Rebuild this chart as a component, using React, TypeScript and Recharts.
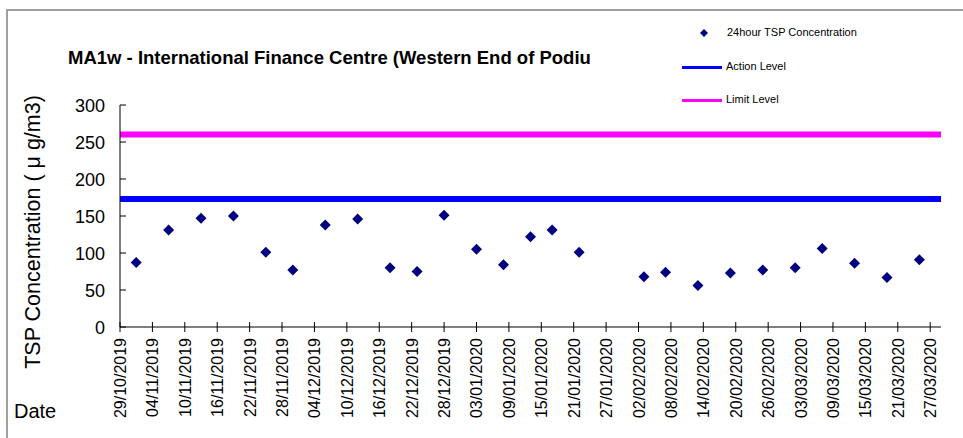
import React from "react";
import { ComposedChart, Scatter, XAxis, YAxis, ReferenceLine } from "recharts";

const sampleDates = [
  "01/11/2019", "07/11/2019", "13/11/2019", "19/11/2019", "25/11/2019", "30/11/2019",
  "06/12/2019", "12/12/2019", "18/12/2019", "23/12/2019", "28/12/2019", "03/01/2020",
  "08/01/2020", "13/01/2020", "17/01/2020", "22/01/2020", "03/02/2020", "07/02/2020",
  "13/02/2020", "19/02/2020", "25/02/2020", "02/03/2020", "07/03/2020", "13/03/2020",
  "19/03/2020", "25/03/2020",
];
const tspValues = [
  87, 131, 147, 150, 101, 77, 138, 146, 80, 75, 151, 105, 84, 122, 131, 101, 68, 74, 56, 73,
  77, 80, 106, 86, 67, 91,
];
const tickDates = [
  "29/10/2019", "04/11/2019", "10/11/2019", "16/11/2019", "22/11/2019", "28/11/2019",
  "04/12/2019", "10/12/2019", "16/12/2019", "22/12/2019", "28/12/2019", "03/01/2020",
  "09/01/2020", "15/01/2020", "21/01/2020", "27/01/2020", "02/02/2020", "08/02/2020",
  "14/02/2020", "20/02/2020", "26/02/2020", "03/03/2020", "09/03/2020", "15/03/2020",
  "21/03/2020", "27/03/2020",
];
const yTicks = [0, 50, 100, 150, 200, 250, 300];
const actionLevel = 173;
const limitLevel = 260;
const startDate = "29/10/2019";
const endDate = "29/03/2020";

const toMs = (s: string) => {
  const [d, m, y] = s.split("/").map(Number);
  return Date.UTC(y, m - 1, d);
};
const dayOf = (s: string) => Math.round((toMs(s) - toMs(startDate)) / 86400000);

const data = sampleDates.map((d, i) => ({ day: dayOf(d), value: tspValues[i] }));
const xTicks = tickDates.map(dayOf);
const labelFor: Record<number, string> = {};
tickDates.forEach((t) => (labelFor[dayOf(t)] = t));

const FONT = "'Liberation Sans', Arial, sans-serif";

const Diamond = (props: any) => {
  const { cx, cy } = props;
  const r = 5.5;
  return (
    <polygon
      points={`${cx},${cy - r} ${cx + r},${cy} ${cx},${cy + r} ${cx - r},${cy}`}
      fill="#000080"
    />
  );
};

const XTick = (props: any) => {
  const { x, y, payload } = props;
  return (
    <g>
      <line x1={x} y1={y - 5} x2={x} y2={y + 5} stroke="#000" strokeWidth={1} />
      <text
        x={0}
        y={0}
        transform={`translate(${x + 6},${y + 11}) rotate(-90)`}
        textAnchor="end"
        fontSize={16}
        fontFamily={FONT}
        fill="#000"
      >
        {labelFor[payload.value]}
      </text>
    </g>
  );
};

const YTick = (props: any) => {
  const { x, y, payload } = props;
  return (
    <g>
      <line x1={x} y1={y} x2={x + 6} y2={y} stroke="#000" strokeWidth={1} />
      <text x={x - 15} y={y + 6.5} textAnchor="end" fontSize={18} fontFamily={FONT} fill="#000">
        {payload.value}
      </text>
    </g>
  );
};

const LegendBox = () => (
  <div style={{ position: "absolute", left: 682, top: 20, fontFamily: FONT, fontSize: 11, color: "#000", width: 260, height: 100 }}>
    <svg width={12} height={12} style={{ position: "absolute", left: 16, top: 7 }}>
      <polygon points="6,2 10,6 6,10 2,6" fill="#000080" />
    </svg>
    <div style={{ position: "absolute", left: 45, top: 6, whiteSpace: "nowrap" }}>24hour TSP Concentration</div>
    <div style={{ position: "absolute", left: 0, top: 46, width: 40, height: 3, background: "#0000FF" }} />
    <div style={{ position: "absolute", left: 44, top: 40, whiteSpace: "nowrap" }}>Action Level</div>
    <div style={{ position: "absolute", left: 0, top: 79, width: 40, height: 3, background: "#FF00FF" }} />
    <div style={{ position: "absolute", left: 44, top: 73, whiteSpace: "nowrap" }}>Limit Level</div>
  </div>
);

export default function App() {
  return (
    <div style={{ position: "absolute", left: 0, top: 0, width: 963, height: 438, background: "#fff", overflow: "hidden" }}>
      <div
        style={{
          position: "absolute",
          left: 6,
          top: 9,
          width: 957,
          height: 429,
          borderTop: "2px solid #a0a0a0",
          borderLeft: "2px solid #a0a0a0",
        }}
      />
      <div
        style={{
          position: "absolute",
          left: 68,
          top: 47,
          fontFamily: FONT,
          fontWeight: "bold",
          fontSize: 18.5,
          whiteSpace: "nowrap",
        }}
      >
        MA1w - International Finance Centre (Western End of Podiu
      </div>
      <div
        style={{
          position: "absolute",
          left: 33,
          top: 232,
          transform: "translate(-50%, -50%) rotate(-90deg)",
          fontFamily: FONT,
          fontSize: 21.5,
          whiteSpace: "nowrap",
        }}
      >
        TSP Concentration ( μ g/m3)
      </div>
      <div style={{ position: "absolute", left: 14, top: 400, fontFamily: FONT, fontSize: 20 }}>Date</div>
      <LegendBox />
      <div style={{ position: "absolute", left: 0, top: 0 }}>
        <ComposedChart width={963} height={438} data={data} margin={{ top: 105, right: 22, bottom: 0, left: 0 }}>
          <XAxis
            type="number"
            dataKey="day"
            domain={[0, dayOf(endDate)]}
            ticks={xTicks}
            interval={0}
            height={111}
            tickLine={false}
            tickSize={0}
            tickMargin={0}
            tick={<XTick />}
            stroke="#000"
            allowDataOverflow
          />
          <YAxis
            type="number"
            domain={[0, 300]}
            ticks={yTicks}
            interval={0}
            width={120}
            tickLine={false}
            tickSize={0}
            tickMargin={0}
            tick={<YTick />}
            stroke="#000"
          />
          <ReferenceLine y={limitLevel} stroke="#FF00FF" strokeWidth={6} />
          <ReferenceLine y={actionLevel} stroke="#0000FF" strokeWidth={6} />
          <Scatter dataKey="value" shape={<Diamond />} isAnimationActive={false} />
        </ComposedChart>
      </div>
    </div>
  );
}
